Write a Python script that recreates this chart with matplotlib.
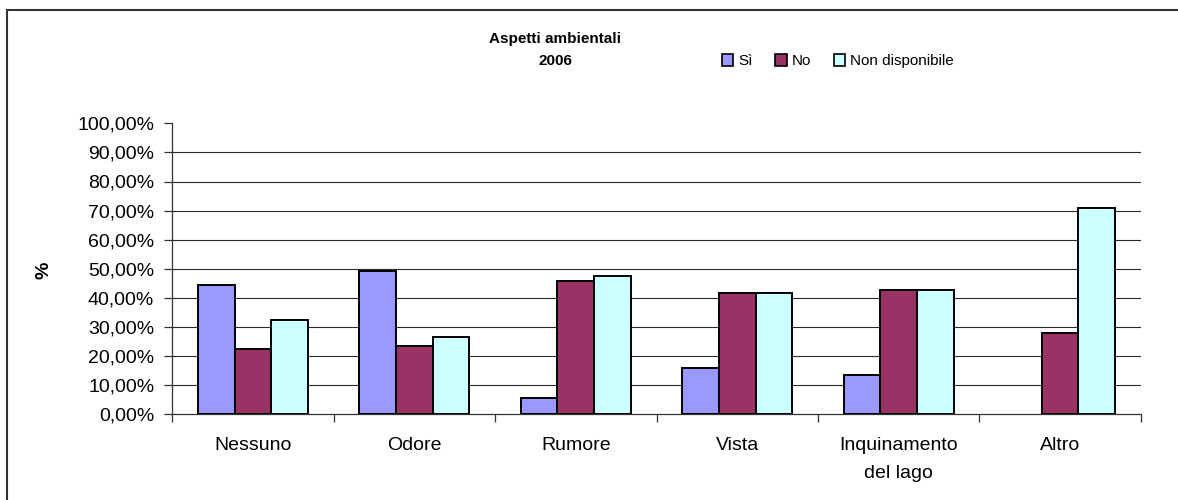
import matplotlib
matplotlib.use("Agg")
import matplotlib.pyplot as plt
import numpy as np
from matplotlib.ticker import FuncFormatter, MultipleLocator, FixedLocator
from matplotlib.patches import Rectangle

plt.rcParams['font.family'] = ['Liberation Sans', 'DejaVu Sans']

categories = ["Nessuno", "Odore", "Rumore", "Vista", "Inquinamento\ndel lago", "Altro"]
si = [44.4, 49.1, 5.5, 15.8, 13.4, 0.0]
no = [22.4, 23.3, 45.9, 41.8, 42.7, 28.0]
non_disp = [32.3, 26.6, 47.6, 41.8, 42.7, 71.0]
series_names = ["Sì", "No", "Non disponibile"]
colors = ["#9999FF", "#993366", "#CCFFFF"]

W, H = 1178, 500
fig = plt.figure(figsize=(W / 100, H / 100), dpi=100)
ax = fig.add_axes([172.3 / W, (H - 414.3) / H, (1140.7 - 172.3) / W, 291.0 / H])

x = np.arange(len(categories))
bw = 0.227
handles = []
for k, (vals, name, col) in enumerate(zip([si, no, non_disp], series_names, colors)):
    b = ax.bar(x + (k - 1) * bw, vals, width=bw, color=col, edgecolor="black",
               linewidth=1.4, label=name, zorder=3)
    for patch, v in zip(b.patches, vals):
        if v == 0:
            patch.set_visible(False)
    handles.append(b)

ax.set_xlim(-0.5, len(categories) - 0.5)
ax.set_ylim(0, 100)
ax.yaxis.set_major_locator(MultipleLocator(10))
ax.yaxis.set_major_formatter(FuncFormatter(lambda v, p: f"{v:.2f}%".replace(".", ",")))

# gridlines (no line at top)
for yv in range(10, 100, 10):
    ax.axhline(yv, color="#2a2a2a", linewidth=0.8, zorder=1)

ax.set_xticks(x)
ax.set_xticklabels(categories, fontsize=14, linespacing=1.85)
ax.tick_params(axis="x", which="major", length=0, pad=16)
ax.xaxis.set_minor_locator(FixedLocator(np.arange(-0.5, len(categories), 1.0)))
ax.tick_params(axis="x", which="minor", length=6, width=0.9, color="#333333", direction="out")
ax.tick_params(axis="y", which="major", length=6, width=0.9, color="#333333",
               direction="out", labelsize=14, pad=7)

for s in ["top", "right"]:
    ax.spines[s].set_visible(False)
for s in ["left", "bottom"]:
    ax.spines[s].set_color("#333333")
    ax.spines[s].set_linewidth(0.9)

# title
fig.text(555 / W, 1 - 39 / H, "Aspetti ambientali", ha="center", va="center",
         fontsize=11, fontweight="bold")
fig.text(555 / W, 1 - 61 / H, "2006", ha="center", va="center",
         fontsize=11, fontweight="bold")

# y label
fig.text(44 / W, 1 - 270 / H, "%", ha="center", va="center", rotation=90,
         fontsize=14, fontweight="bold")

# legend
leg = fig.legend(handles, series_names, loc="center left",
                 bbox_to_anchor=(722 / W, 1 - 61 / H), ncol=3, frameon=False,
                 fontsize=11, handlelength=0.75, handleheight=0.8,
                 handletextpad=0.3, columnspacing=1.5, borderaxespad=0, borderpad=0)
for p in leg.get_patches():
    p.set_linewidth(1.2)

# outer border
fig.patches.append(Rectangle((7 / W, -0.1), 1.2, (1 - 10 / H) + 0.1,
                             transform=fig.transFigure, fill=False,
                             edgecolor="#333333", linewidth=1.5))

fig.savefig("out.png", dpi=100)
